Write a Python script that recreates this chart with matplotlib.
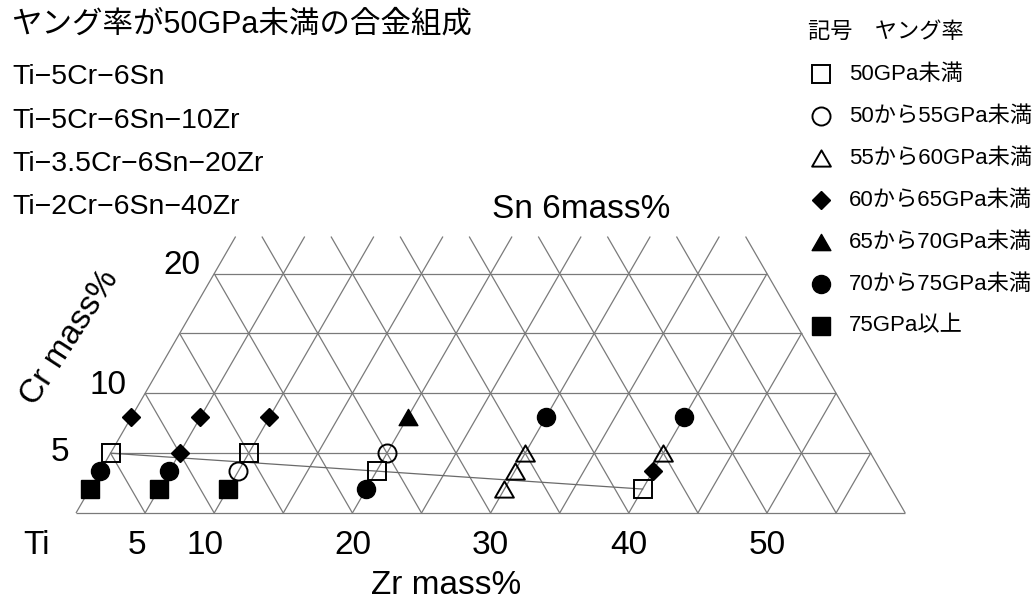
import numpy as np
import matplotlib
matplotlib.use("Agg")
import matplotlib.pyplot as plt
from matplotlib.path import Path

plt.rcParams['font.family'] = ['Liberation Sans', 'Noto Sans CJK JP']

# Young's modulus classes (legend order)
classes = ['50GPa未満', '50から55GPa未満', '55から60GPa未満', '60から65GPa未満',
           '65から70GPa未満', '70から75GPa未満', '75GPa以上']

# Measured alloys (Sn fixed at 6 mass%): Zr, Cr in mass% and modulus class index
alloy_zr = [0, 0, 0, 0,
            5, 5, 5, 5,
            10, 10, 10, 10,
            20, 20, 20, 20,
            30, 30, 30, 30,
            40, 40, 40, 40]
alloy_cr = [2, 3.5, 5, 8,
            2, 3.5, 5, 8,
            2, 3.5, 5, 8,
            2, 3.5, 5, 8,
            2, 3.5, 5, 8,
            2, 3.5, 5, 8]
alloy_cls = [6, 5, 0, 3,
             6, 5, 3, 3,
             6, 1, 0, 3,
             5, 0, 1, 4,
             2, 2, 2, 5,
             0, 3, 2, 5]

# Low-modulus boundary line
trend_zr = [0, 20, 40]
trend_cr = [5, 3.5, 2]

# Alloys with Young's modulus below 50 GPa
low_alloys = ['Ti−5Cr−6Sn', 'Ti−5Cr−6Sn−10Zr', 'Ti−3.5Cr−6Sn−20Zr', 'Ti−2Cr−6Sn−40Zr']

# Axis ticks
cr_ticks = [5, 10, 20]
zr_ticks = [5, 10, 20, 30, 40, 50]

# Grid extent
ZR_MAX = 60
CR_ROW_MAX = 20
CR_LINE_TOP = 23.1
STEP = 5

S3 = np.sqrt(3) / 2


def to_xy(zr, cr):
    zr = np.asarray(zr, float)
    cr = np.asarray(cr, float)
    return zr + cr / 2, cr * S3


# equilateral triangle marker (closed outline)
tri = Path([(0, 0.433), (-0.5, -0.433), (0.5, -0.433), (0, 0.433)], closed=True)

styles = [
    dict(marker='s', ms=12.5, mfc='none', mec='black', mew=1.4),
    dict(marker='o', ms=13, mfc='none', mec='black', mew=1.4),
    dict(marker=tri, ms=13.5, mfc='none', mec='black', mew=1.4),
    dict(marker='D', ms=9.5, mfc='black', mec='black', mew=1),
    dict(marker=tri, ms=13.5, mfc='black', mec='black', mew=1),
    dict(marker='o', ms=13, mfc='black', mec='black', mew=1),
    dict(marker='s', ms=12.5, mfc='black', mec='black', mew=1),
]

W, H = 1032, 600
fig = plt.figure(figsize=(W / 100, H / 100), dpi=100)

# plot axes: 13.82 px per mass%, origin (Ti corner) at pixel (76, 513)
PX = 13.82
ax = fig.add_axes([0, 0, 1, 1])
ax.set_xlim(-76 / PX, (W - 76) / PX)
ax.set_ylim(-(H - 513) / PX, 513 / PX)
ax.axis('off')

grid_kw = dict(color='#7a7a7a', lw=0.9, zorder=1, solid_capstyle='butt')

# horizontal lines (constant Cr)
for c in np.arange(0, CR_ROW_MAX + 1, STEP):
    x, y = to_xy([0, ZR_MAX - c], [c, c])
    ax.plot(x, y, **grid_kw)

# lines of constant Zr
for z in np.arange(0, ZR_MAX, STEP):
    ctop = min(CR_LINE_TOP, ZR_MAX - z)
    x, y = to_xy([z, z], [0, ctop])
    ax.plot(x, y, **grid_kw)

# lines of constant Zr+Cr
for s in np.arange(STEP, ZR_MAX + 1, STEP):
    ctop = min(CR_LINE_TOP, s)
    x, y = to_xy([s - ctop, s], [ctop, 0])
    ax.plot(x, y, **grid_kw)

# boundary line
tx, ty = to_xy(trend_zr, trend_cr)
ax.plot(tx, ty, color='#6a6a6a', lw=0.9, zorder=2)

# data points
for k, st in enumerate(styles):
    zs = [z for z, c in zip(alloy_zr, alloy_cls) if c == k]
    cs = [r for r, c in zip(alloy_cr, alloy_cls) if c == k]
    if zs:
        x, y = to_xy(zs, cs)
        ax.plot(x, y, ls='none', zorder=3, **st)

# axis numbers
big = 24
cr_label_dx = [-3.66, -2.72, -2.37]
cr_label_dy = [0.07, 0.6, 0.6]
for c, dx, dy in zip(cr_ticks, cr_label_dx, cr_label_dy):
    x, y = to_xy(0, c)
    ax.text(x + dx, y + dy, str(c), fontsize=big, ha='center', va='center')

zr_label_dx = [-0.6, -0.67, 0, 0, 0, 0]
for z, dx in zip(zr_ticks, zr_label_dx):
    ax.text(z + dx, -32 / PX, str(z), fontsize=big, ha='center', va='center')
ax.text(-39 / PX, -32 / PX, 'Ti', fontsize=big, ha='center', va='center')

ax.text(370 / PX, -73 / PX, 'Zr mass%', fontsize=big, ha='center', va='center')
ax.text(-6 / PX, 175 / PX, 'Cr mass%', fontsize=big, ha='center', va='center',
        rotation=57, rotation_mode='anchor')
ax.text(416 / PX, 304 / PX, 'Sn 6mass%', fontsize=big, ha='left', va='center')

# heading and alloy list (pixel coordinates)
ov = fig.add_axes([0, 0, 1, 1], facecolor='none')
ov.set_xlim(0, W)
ov.set_ylim(H, 0)
ov.axis('off')

ov.text(11, 25, 'ヤング率が50GPa未満の合金組成', fontsize=22, ha='left', va='center')
for i, name in enumerate(low_alloys):
    ov.text(12, 77 + 43.5 * i, name, fontsize=20.5, ha='left', va='center')

# symbol legend
ov.text(808, 32, '記号\u3000ヤング率', fontsize=16, ha='left', va='center')
for i, (lab, st) in enumerate(zip(classes, styles)):
    yy = 74 + 42 * i
    ov.plot([821], [yy], ls='none', **st)
    ov.text(849, yy, lab, fontsize=16, ha='left', va='center')

fig.savefig('out.png', dpi=100)
